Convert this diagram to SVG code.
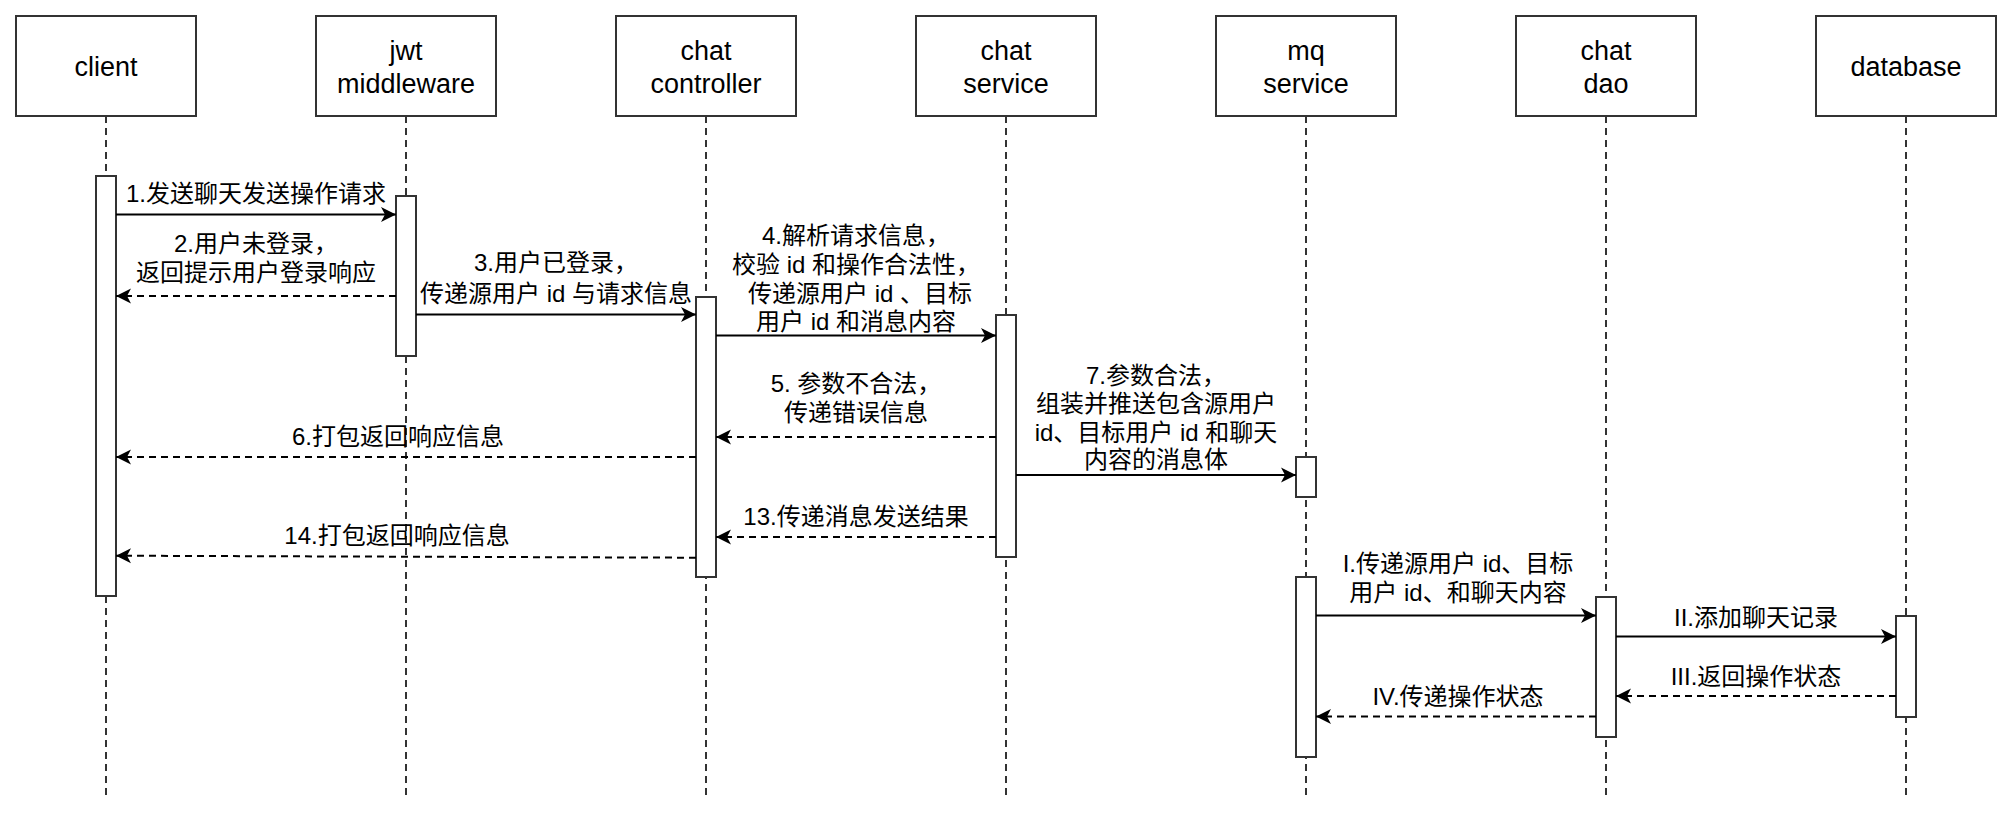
<svg xmlns="http://www.w3.org/2000/svg" width="2014" height="817" viewBox="0 0 2014 817">
<style>
.box{fill:#fff;stroke:#333;stroke-width:2}
.act{fill:#fff;stroke:#333;stroke-width:2}
.life{stroke:#333;stroke-width:2;stroke-dasharray:7 5;fill:none}
.msg{stroke:#000;stroke-width:2;fill:none}
.ret{stroke:#000;stroke-width:2;fill:none;stroke-dasharray:7 5}
.t{font-family:"Liberation Sans","Noto Sans CJK SC",sans-serif;font-size:27px;fill:#000;text-anchor:middle}
.l{font-family:"Liberation Sans","Noto Sans CJK SC",sans-serif;font-size:24px;fill:#000;text-anchor:middle}
</style>
<defs>
<marker id="arr" viewBox="0 0 16 16" refX="15" refY="8" markerWidth="16" markerHeight="16" markerUnits="userSpaceOnUse" orient="auto">
<path d="M0,0.5 L15,8 L0,15.5 L4,8 Z" fill="#000" stroke="none"/>
</marker>
</defs>
<rect width="2014" height="817" fill="#fff"/>

<g id="lifelines">
<line class="life" x1="106" y1="116" x2="106" y2="796"/>
<line class="life" x1="406" y1="116" x2="406" y2="796"/>
<line class="life" x1="706" y1="116" x2="706" y2="796"/>
<line class="life" x1="1006" y1="116" x2="1006" y2="796"/>
<line class="life" x1="1306" y1="116" x2="1306" y2="796"/>
<line class="life" x1="1606" y1="116" x2="1606" y2="796"/>
<line class="life" x1="1906" y1="116" x2="1906" y2="796"/>
</g>

<g id="client">
<rect class="box" x="16" y="16" width="180" height="100"/>
<text class="t" x="106" y="76">client</text>
<rect class="act" x="96" y="176" width="20" height="420"/>
</g>
<g id="jwt">
<rect class="box" x="316" y="16" width="180" height="100"/>
<text class="t" x="406" y="59.5">jwt</text>
<text class="t" x="406" y="93">middleware</text>
<rect class="act" x="396" y="196" width="20" height="160"/>
</g>
<g id="controller">
<rect class="box" x="616" y="16" width="180" height="100"/>
<text class="t" x="706" y="59.5">chat</text>
<text class="t" x="706" y="93">controller</text>
<rect class="act" x="696" y="297" width="20" height="280"/>
</g>
<g id="service">
<rect class="box" x="916" y="16" width="180" height="100"/>
<text class="t" x="1006" y="59.5">chat</text>
<text class="t" x="1006" y="93">service</text>
<rect class="act" x="996" y="315" width="20" height="242"/>
</g>
<g id="mq">
<rect class="box" x="1216" y="16" width="180" height="100"/>
<text class="t" x="1306" y="59.5">mq</text>
<text class="t" x="1306" y="93">service</text>
<rect class="act" x="1296" y="457" width="20" height="40"/>
<rect class="act" x="1296" y="577" width="20" height="180"/>
</g>
<g id="dao">
<rect class="box" x="1516" y="16" width="180" height="100"/>
<text class="t" x="1606" y="59.5">chat</text>
<text class="t" x="1606" y="93">dao</text>
<rect class="act" x="1596" y="597" width="20" height="140"/>
</g>
<g id="database">
<rect class="box" x="1816" y="16" width="180" height="100"/>
<text class="t" x="1906" y="76">database</text>
<rect class="act" x="1896" y="616" width="20" height="101"/>
</g>

<g id="connectors">
<line class="msg" x1="116" y1="214.5" x2="396" y2="214.5" marker-end="url(#arr)"/>
<line class="ret" x1="396" y1="296" x2="116" y2="296" marker-end="url(#arr)"/>
<line class="msg" x1="416" y1="314.5" x2="696" y2="314.5" marker-end="url(#arr)"/>
<line class="msg" x1="716" y1="335.5" x2="996" y2="335.5" marker-end="url(#arr)"/>
<line class="ret" x1="996" y1="437" x2="716" y2="437" marker-end="url(#arr)"/>
<line class="ret" x1="696" y1="457" x2="116" y2="457" marker-end="url(#arr)"/>
<line class="msg" x1="1016" y1="475" x2="1296" y2="475" marker-end="url(#arr)"/>
<line class="ret" x1="996" y1="537" x2="716" y2="537" marker-end="url(#arr)"/>
<line class="ret" x1="696" y1="557.7" x2="116" y2="555.7" marker-end="url(#arr)"/>
<line class="msg" x1="1316" y1="615.5" x2="1596" y2="615.5" marker-end="url(#arr)"/>
<line class="msg" x1="1616" y1="636.5" x2="1896" y2="636.5" marker-end="url(#arr)"/>
<line class="ret" x1="1896" y1="696" x2="1616" y2="696" marker-end="url(#arr)"/>
<line class="ret" x1="1596" y1="716.5" x2="1316" y2="716.5" marker-end="url(#arr)"/>

<text class="l" x="256" y="201.5">1.发送聊天发送操作请求</text>
<text class="l" x="256" y="252">2.用户未登录，</text>
<text class="l" x="256" y="281">返回提示用户登录响应</text>
<text class="l" x="556" y="271">3.用户已登录，</text>
<text class="l" x="556" y="302">传递源用户 id 与请求信息</text>
<text class="l" x="856" y="244">4.解析请求信息，</text>
<text class="l" x="856" y="272.8">校验 id 和操作合法性，</text>
<text class="l" x="860" y="301.6">传递源用户 id 、目标</text>
<text class="l" x="856" y="330.4">用户 id 和消息内容</text>
<text class="l" x="856" y="392">5. 参数不合法，</text>
<text class="l" x="856" y="421">传递错误信息</text>
<text class="l" x="398" y="445">6.打包返回响应信息</text>
<text class="l" x="1156" y="384">7.参数合法，</text>
<text class="l" x="1156" y="412">组装并推送包含源用户</text>
<text class="l" x="1156" y="441">id、目标用户 id 和聊天</text>
<text class="l" x="1156" y="468">内容的消息体</text>
<text class="l" x="856" y="525">13.传递消息发送结果</text>
<text class="l" x="397" y="544">14.打包返回响应信息</text>
<text class="l" x="1458" y="572">I.传递源用户 id、目标</text>
<text class="l" x="1458" y="601">用户 id、和聊天内容</text>
<text class="l" x="1756" y="626">II.添加聊天记录</text>
<text class="l" x="1756" y="685">III.返回操作状态</text>
<text class="l" x="1458" y="705">IV.传递操作状态</text>
</g>
</svg>
